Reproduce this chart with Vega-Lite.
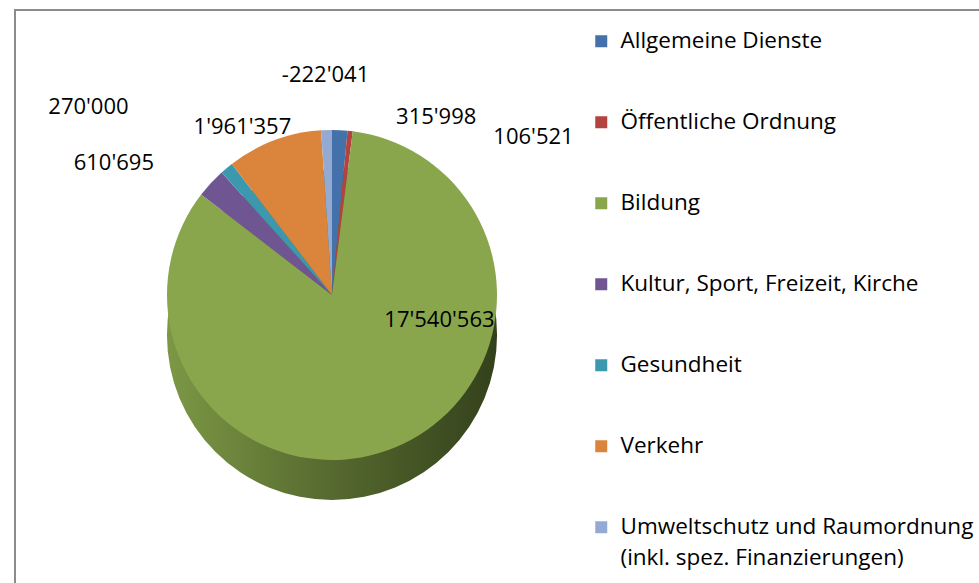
{
  "$schema": "https://vega.github.io/schema/vega-lite/v6.json",
  "width": 966,
  "height": 575,
  "autosize": "none",
  "padding": {"left": 15, "top": 10, "right": 0, "bottom": 0},
  "background": "white",
  "view": {"stroke": "#8c8c8c", "strokeWidth": 2, "fill": "white"},
  "config": {
    "view": {"stroke": "#8c8c8c", "strokeWidth": 2},
    "font": "Open Sans",
    "style": {"guide-label": {"lineHeight": 31}},
    "locale": {"number": {"decimal": ".", "thousands": "'", "grouping": [3], "currency": ["", ""], "minus": "-"}}
  },
  "layer": [
    {
      "data": {"values": [{"k": 1}]},
      "mark": {
        "type": "arc", "theta": 0, "theta2": 6.2832, "radius": 165, "x": 317, "y": 325,
        "fill": {"gradient": "linear", "x1": 0, "x2": 1, "y1": 0, "y2": 0,
          "stops": [{"offset": 0, "color": "#7c9845"}, {"offset": 0.5, "color": "#56692f"}, {"offset": 1, "color": "#33411b"}]}
      },
      "encoding": {}
    },
    {
      "data": {"values": [
        {"order": 1, "Bereich": "Allgemeine Dienste", "Betrag": 315998},
        {"order": 2, "Bereich": "Öffentliche Ordnung", "Betrag": 106521},
        {"order": 3, "Bereich": "Bildung", "Betrag": 17540563},
        {"order": 4, "Bereich": "Kultur, Sport, Freizeit, Kirche", "Betrag": 610695},
        {"order": 5, "Bereich": "Gesundheit", "Betrag": 270000},
        {"order": 6, "Bereich": "Verkehr", "Betrag": 1961357},
        {"order": 7, "Bereich": "Umweltschutz und Raumordnung (inkl. spez. Finanzierungen)", "Betrag": -222041}
      ]},
      "transform": [{"calculate": "abs(datum.Betrag)", "as": "Anteil"}],
      "encoding": {
        "theta": {"field": "Anteil", "type": "quantitative", "stack": true},
        "order": {"field": "order", "type": "quantitative"}
      },
      "layer": [
        {
          "mark": {"type": "arc", "radius": 165, "x": 317, "y": 285},
          "encoding": {
            "color": {
              "field": "Bereich", "type": "nominal",
              "scale": {
                "domain": ["Allgemeine Dienste", "Öffentliche Ordnung", "Bildung", "Kultur, Sport, Freizeit, Kirche", "Gesundheit", "Verkehr", "Umweltschutz und Raumordnung (inkl. spez. Finanzierungen)"],
                "range": ["#4471aa", "#b3433f", "#89a64c", "#705593", "#3b98af", "#da843c", "#95aad3"]
              },
              "legend": {
                "title": null,
                "orient": "none",
                "legendX": 575,
                "legendY": 20,
                "symbolType": "square",
                "symbolSize": 144,
                "symbolStrokeWidth": 0,
                "labelFont": "Open Sans",
                "labelFontSize": 22.5,
                "labelColor": "#000000",
                "labelLimit": 0,
                "rowPadding": 58,
                "labelOffset": 8,
                "labelExpr": "datum.label == 'Umweltschutz und Raumordnung (inkl. spez. Finanzierungen)' ? ['Umweltschutz und Raumordnung', '(inkl. spez. Finanzierungen)'] : datum.label"
              }
            }
          }
        },
        {
          "mark": {"type": "text", "radius": 195, "x": 317, "y": 285, "fontSize": 22, "color": "#000000", "dy": -25},
          "encoding": {"text": {"condition": {"test": "datum.order == 7", "field": "Betrag", "type": "quantitative", "format": ",d"}, "value": ""}}
        },
        {
          "mark": {"type": "text", "radius": 195, "x": 317, "y": 285, "fontSize": 22, "color": "#000000", "dx": 95, "dy": 17},
          "encoding": {"text": {"condition": {"test": "datum.order == 1", "field": "Betrag", "type": "quantitative", "format": ",d"}, "value": ""}}
        },
        {
          "mark": {"type": "text", "radius": 195, "x": 317, "y": 285, "fontSize": 22, "color": "#000000", "dx": 180, "dy": 36},
          "encoding": {"text": {"condition": {"test": "datum.order == 2", "field": "Betrag", "type": "quantitative", "format": ",d"}, "value": ""}}
        },
        {
          "mark": {"type": "text", "radius": 100, "x": 317, "y": 285, "fontSize": 22, "color": "#000000", "dx": 69, "dy": -67},
          "encoding": {"text": {"condition": {"test": "datum.order == 3", "field": "Betrag", "type": "quantitative", "format": ",d"}, "value": ""}}
        },
        {
          "mark": {"type": "text", "radius": 195, "x": 317, "y": 285, "fontSize": 22, "color": "#000000", "dx": -75, "dy": 0},
          "encoding": {"text": {"condition": {"test": "datum.order == 4", "field": "Betrag", "type": "quantitative", "format": ",d"}, "value": ""}}
        },
        {
          "mark": {"type": "text", "radius": 195, "x": 317, "y": 285, "fontSize": 22, "color": "#000000", "dx": -119, "dy": -38},
          "encoding": {"text": {"condition": {"test": "datum.order == 5", "field": "Betrag", "type": "quantitative", "format": ",d"}, "value": ""}}
        },
        {
          "mark": {"type": "text", "radius": 195, "x": 317, "y": 285, "fontSize": 22, "color": "#000000", "dx": -21, "dy": 15},
          "encoding": {"text": {"condition": {"test": "datum.order == 6", "field": "Betrag", "type": "quantitative", "format": ",d"}, "value": ""}}
        }
      ]
    }
  ]
}
